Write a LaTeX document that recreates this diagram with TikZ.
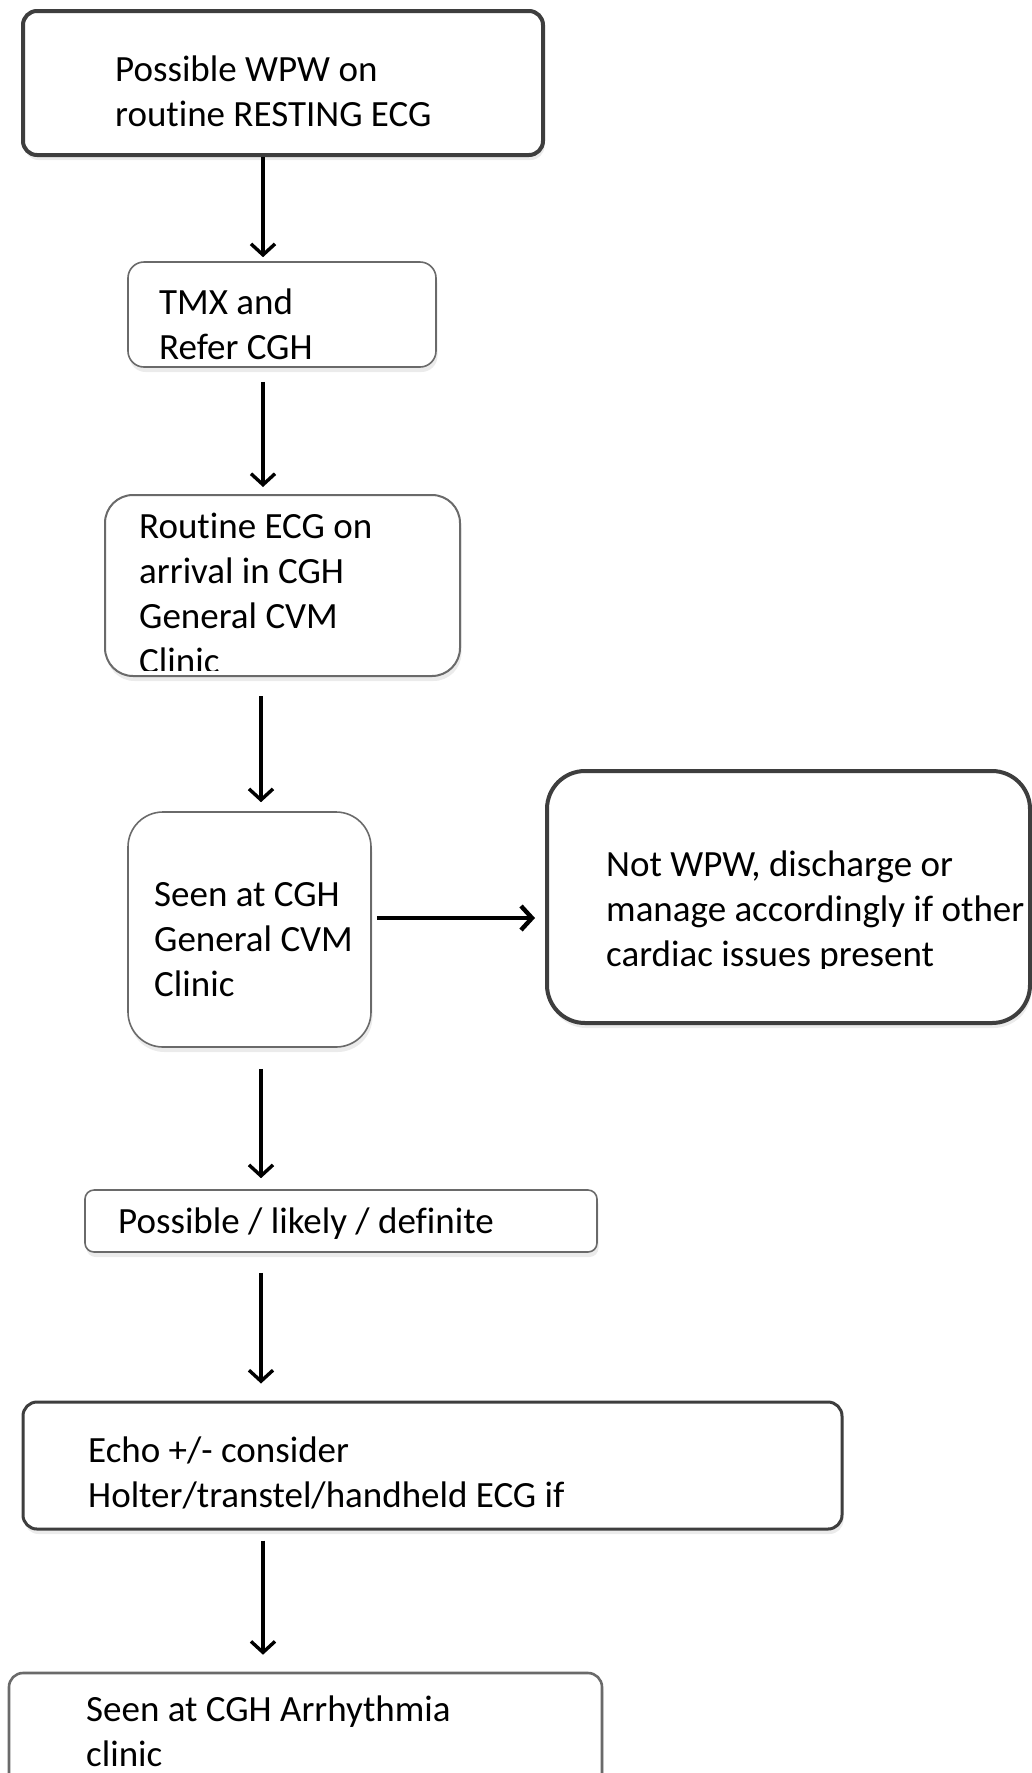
\documentclass[tikz,border=0pt]{standalone}
\usepackage{fontspec}
\setmainfont{Carlito}[Ligatures=NoCommon]
\usetikzlibrary{arrows.meta,shadows}
\definecolor{edgedark}{HTML}{3E3E3E}
\definecolor{edgegray}{HTML}{6A6A6A}
\begin{document}
\begin{tikzpicture}[x=1pt,y=-1pt,
  box/.style={draw, fill=white, inner sep=0pt, rectangle,
    drop shadow={shadow xshift=1.5pt, shadow yshift=-5pt, opacity=0.16}},
  heavy/.style={box, draw=edgedark, line width=4pt},
  medium/.style={box, draw=edgedark, line width=3pt},
  light/.style={box, draw=edgegray, line width=1.6pt},
  label/.style={anchor=west, inner sep=0pt, align=left,
    font=\fontsize{37}{45}\selectfont, text=black},
  flow/.style={-{Straight Barb[length=11pt,width=24pt]}, line width=3.4pt, black},
  wide/.style={flow, line width=4.4pt}
]
\clip (0,0) rectangle (1032,1773);

% boxes
\node[heavy, rounded corners=14pt, minimum width=520pt, minimum height=144pt] (b1) at (283,83) {};
\node[light, rounded corners=16pt, minimum width=308pt, minimum height=105pt] (b2) at (282,314.5) {};
\node[light, line width=2pt, rounded corners=28pt, minimum width=355pt, minimum height=181pt] (b3) at (282.5,585.5) {};
\node[light, rounded corners=35pt, minimum width=243pt, minimum height=235pt] (b4) at (249.5,929.5) {};
\node[heavy, rounded corners=38pt, minimum width=483pt, minimum height=252pt] (b5) at (788.5,897) {};
\node[light, rounded corners=9pt, minimum width=512pt, minimum height=62pt] (b6) at (341,1221) {};
\node[medium, rounded corners=14pt, minimum width=819pt, minimum height=127pt] (b7) at (432.5,1465.5) {};
\node[light, line width=2.6pt, rounded corners=14pt, minimum width=593pt, minimum height=150pt] (b8) at (305.5,1748) {};

% texts
\node[label] (t1) at (115,91.5) {Possible WPW on\\routine RESTING ECG};
\node[label] (t2) at (159,324) {TMX and\\Refer CGH};
\begin{scope}
  \clip (105,497) rectangle (460,670);
  \node[label] (t3) at (139,593.5) {Routine ECG on\\arrival in CGH\\General CVM\\Clinic};
\end{scope}
\node[label] (t4) at (154,940) {Seen at CGH\\General CVM\\Clinic};
\begin{scope}
  \clip (547,773) rectangle (1030,968);
  \node[label] (t5) at (606,912) {Not WPW, discharge or\\manage accordingly if other\\cardiac issues present};
\end{scope}
\node[label] (t6) at (118,1224) {Possible / likely / definite};
\node[label] (t7) at (88,1472.5) {Echo +/- consider\\Holter/transtel/handheld ECG if};
\node[label] (t8) at (86,1731.5) {Seen at CGH Arrhythmia\\clinic};

% connectors
\draw[flow, shorten >=4pt] (263,0 |- b1.south) -- (263,0 |- b2.north);
\draw[flow, shorten <=14pt, shorten >=7pt] (263,0 |- b2.south) -- (263,0 |- b3.north);
\draw[flow, shorten <=19pt, shorten >=9pt] (261,0 |- b3.south) -- (261,0 |- b4.north);
\draw[flow, shorten <=21pt, shorten >=11pt] (261,0 |- b4.south) -- (261,0 |- b6.north);
\draw[flow, shorten <=20pt, shorten >=17pt] (261,0 |- b6.south) -- (261,0 |- b7.north);
\draw[flow, shorten <=10pt, shorten >=17pt] (263,0 |- b7.south) -- (263,0 |- b8.north);
\draw[wide, shorten <=5pt, shorten >=10pt] (0,918 -| b4.east) -- (0,918 -| b5.west);
\end{tikzpicture}
\end{document}
